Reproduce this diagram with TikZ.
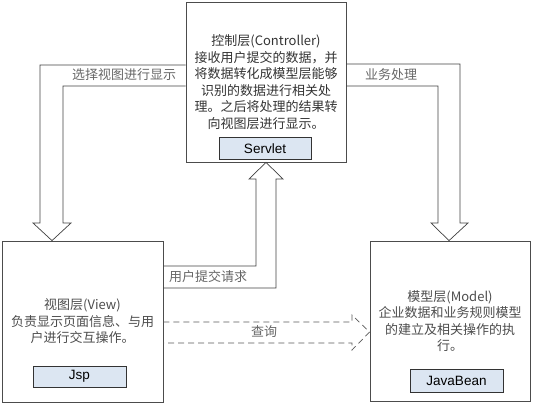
\documentclass[tikz,border=0pt]{standalone}
\usepackage{fontspec}
\setmainfont{Noto Sans CJK SC}
\setsansfont{Liberation Sans}
\definecolor{techfill}{HTML}{DCE6F2}
\begin{document}
\begin{tikzpicture}[x=1pt,y=-1pt,
  layer/.style={draw=black!70, line width=0.8pt, minimum width=160pt, minimum height=160pt,
    inner sep=0pt, align=center, text=black!70, font=\fontsize{13}{16.5}\selectfont},
  tech/.style={draw=black!80, fill=techfill, line width=0.8pt, minimum width=92pt,
    minimum height=22pt, inner sep=0pt, font=\sffamily\fontsize{13.5}{15}\selectfont},
  blk/.style={draw=black!75, line width=0.7pt},
  lbl/.style={text=black!60, inner sep=1pt, font=\fontsize{13}{15}\selectfont}]
\useasboundingbox (0,0) rectangle (534,405);

% layers
\node [layer, text=black!80] (ctrl) at (266,82) {控制层(Controller)\\接收用户提交的数据，并\\将数据转化成模型层能够\\识别的数据进行相关处\\理。之后将处理的结果转\\向视图层进行显示。};
\node [layer, minimum width=161pt, minimum height=161pt] (view) at (82.5,321.5) {视图层(View)\\负责显示页面信息、与用\\户进行交互操作。};
\node [layer] (model) at (450,321) {模型层(Model)\\企业数据和业务规则模型\\的建立及相关操作的执\\行。};

\node [tech] (servlet) at (265,148.5) {Servlet};
\node [tech, minimum width=93pt, minimum height=21pt] (jsp) at (79.5,376.5) {Jsp};
\node [tech, minimum width=93pt, minimum height=23pt] (javabean) at (456.5,380.5) {JavaBean};

% controller -> view
\draw [blk] (ctrl.west |- 0,65) -- (40,65) -- (40,223) -- (33,223) -- (52,0 |- view.north)
	-- (71,223) -- (63,223) -- (63,86) -- (ctrl.west |- 0,86);
\node [lbl] (show) at (124,75) {选择视图进行显示};

% controller -> model
\draw [blk] (ctrl.east |- 0,64) -- (460,64) -- (460,223) -- (468,223) -- (449,0 |- model.north)
	-- (431,223) -- (438,223) -- (438,86) -- (ctrl.east |- 0,86);
\node [lbl] (biz) at (391,75) {业务处理};

% view -> controller
\draw [blk] (view.east |- 0,266) -- (256,266) -- (256,179) -- (249,179) -- (ctrl.south)
	-- (283,179) -- (276,179) -- (276,288) -- (view.east |- 0,288);
\node [lbl] (req) at (208,277) {用户提交请求};

% view -> model (dashed)
\draw [blk, draw=black!65, dash pattern=on 6pt off 4pt] (view.east |- 0,322) -- (352,322) -- (352,315)
	-- (model.west |- 0,332) -- (352,350) -- (352,343) -- (view.east |- 0,343);
\node [lbl] (query) at (264,332) {查询};

\end{tikzpicture}
\end{document}
